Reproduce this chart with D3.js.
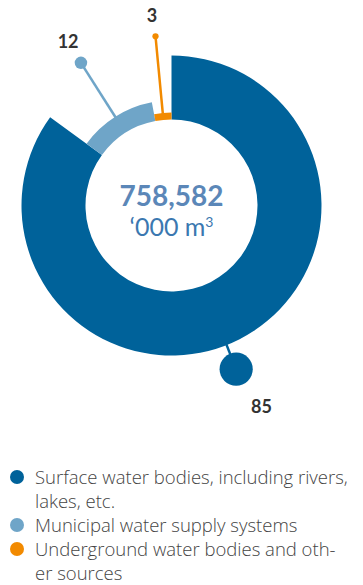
<!DOCTYPE html>
<html lang="en">
<head>
    <meta charset="UTF-8">
    <title>Water withdrawal by source</title>
    <script src="https://d3js.org/d3.v7.min.js"></script>
    <style>
        body { margin: 0; background: #fff; }
        svg { display: block; }
        .val { font-family: Lato, "Open Sans", sans-serif; font-weight: 700; font-size: 18px; fill: #333; }
        .legend text { font-family: "Open Sans", Lato, sans-serif; font-weight: 300; font-size: 18.5px; fill: #444; }
    </style>
</head>
<body>
<div id="chart"></div>
<script>
    // Chart data (share of total, %)
    const sources = ["Surface water bodies, including rivers, lakes, etc.",
                     "Municipal water supply systems",
                     "Underground water bodies and other sources"];
    const shares = [85, 12, 3];
    const colors = ["#00629a", "#6fa5c8", "#f28a00"];
    const totalText = "758,582";
    // legend lines as they wrap in the picture
    const legendLines = [
        ["Surface water bodies, including rivers,", "lakes, etc."],
        ["Municipal water supply systems"],
        ["Underground water bodies and oth-", "er sources"]
    ];

    const W = 363, H = 585;
    const cx = 171.5, cy = 205.5;
    const innerR = 86;
    const outerR = [150, 105, 93];   // each slice has its own thickness
    const dotDist = [176, 169, 170];

    const svg = d3.select("#chart").append("svg")
        .attr("width", W).attr("height", H);

    const g = svg.append("g").attr("transform", `translate(${cx},${cy})`);

    const data = shares.map((v, i) => ({ name: sources[i], value: v, i: i }));
    const pie = d3.pie().sort(null).value(d => d.value)
        .startAngle(0).endAngle(2 * Math.PI);
    const arcs = pie(data);

    const arc = d3.arc()
        .innerRadius(innerR)
        .outerRadius(d => outerR[d.data.i]);

    g.selectAll("path.slice")
        .data(arcs)
        .join("path")
        .attr("class", "slice")
        .attr("d", arc)
        .attr("fill", d => colors[d.data.i]);

    // bubble size grows with value
    const rScale = d3.scaleSqrt().domain([0, 100]).range([0, 18]);

    const polar = (a, r) => [Math.sin(a) * r, -Math.cos(a) * r];

    const labels = g.selectAll("g.lab")
        .data(arcs)
        .join("g")
        .attr("class", "lab");

    labels.each(function (d) {
        const sel = d3.select(this);
        const i = d.data.i;
        const a = i === 0 ? (d.startAngle + d.endAngle) / 2 + 0.095 : (d.startAngle + d.endAngle) / 2;
        const p0 = polar(a, outerR[i] - 2);
        const p1 = polar(a, dotDist[i]);
        const r = rScale(d.data.value);
        sel.append("line")
            .attr("x1", p0[0]).attr("y1", p0[1])
            .attr("x2", p1[0]).attr("y2", p1[1])
            .attr("stroke", colors[i])
            .attr("stroke-width", 2.5);
        sel.append("circle")
            .attr("cx", p1[0]).attr("cy", p1[1])
            .attr("r", r)
            .attr("fill", colors[i]);
        const p2 = polar(a, dotDist[i] + r + 14);
        sel.append("text")
            .attr("class", "val")
            .attr("x", i === 0 ? p2[0] + 14 : p2[0] - 2)
            .attr("y", p2[1])
            .attr("dy", i === 0 ? "0.85em" : "0.15em")
            .attr("text-anchor", "middle")
            .text(d.data.value);
    });

    // centre total
    g.append("text")
        .attr("y", 0)
        .attr("text-anchor", "middle")
        .style("font-family", "Lato, 'Open Sans', sans-serif")
        .style("font-weight", 700)
        .style("font-size", "28px")
        .style("fill", "#5b87b8")
        .text(totalText);

    const unit = g.append("text")
        .attr("y", 30)
        .attr("text-anchor", "middle")
        .style("font-family", "Lato, 'Open Sans', sans-serif")
        .style("font-weight", 400)
        .style("font-size", "25px")
        .style("fill", "#3b78b0");
    unit.append("tspan").text("\u2018000 m");
    unit.append("tspan").attr("dy", -9).style("font-size", "14px").text("3");

    // legend
    const legend = svg.append("g").attr("class", "legend")
        .attr("transform", "translate(0,470)");
    let line = 0;
    legendLines.forEach((lines, i) => {
        const row = legend.append("g").attr("transform", `translate(0,${line * 24})`);
        row.append("circle")
            .attr("cx", 17).attr("cy", 7)
            .attr("r", 7)
            .attr("fill", colors[i]);
        lines.forEach((t, k) => {
            row.append("text")
                .attr("x", 35)
                .attr("y", 14 + k * 24)
                .text(t);
        });
        line += lines.length;
    });
</script>
</body>
</html>
